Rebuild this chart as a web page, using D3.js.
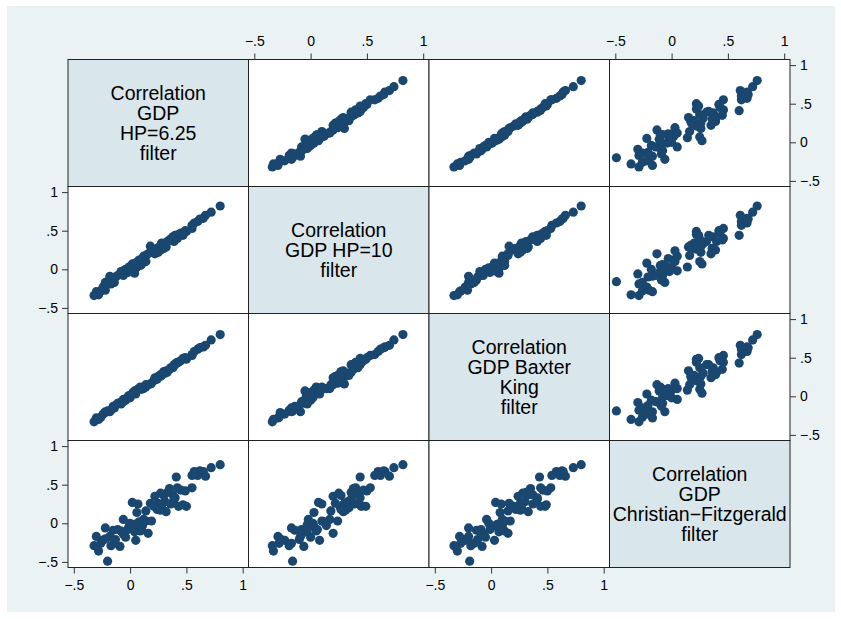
<!DOCTYPE html>
<html>
<head>
<meta charset="utf-8">
<script src="https://cdn.jsdelivr.net/npm/d3@7/dist/d3.min.js"></script>
<style>
  html, body { margin: 0; padding: 0; background: #ffffff; }
  svg { display: block; }
  text { font-family: "Liberation Sans", Arial, Helvetica, sans-serif; fill: #000; }
</style>
</head>
<body>
<svg id="chart" width="841" height="619"></svg>
<script>
// Diagonal labels, one entry per variable (each string is one line)
const varLabels = [
  ["Correlation", "GDP", "HP=6.25", "filter"],
  ["Correlation", "GDP HP=10", "filter"],
  ["Correlation", "GDP Baxter", "King", "filter"],
  ["Correlation", "GDP", "Christian\u2212Fitzgerald", "filter"]
];

// Axis ticks shared by all variables
const tickValues = [-0.5, 0, 0.5, 1];
const tickLabels = ["\u2212.5", "0", ".5", "1"];

// Cyclical GDP component, one value per observation, per filter
const hp625 = [0.80, 0.72, 0.65, 0.57, 0.55, 0.60, 0.67, 0.41, 0.55, 0.49,
  0.42, 0.35, 0.27, 0.22, 0.38, 0.39, 0.31, 0.36, 0.50, 0.43,
  0.02, 0.07, 0.18, 0.25, 0.27, 0.32, 0.14, 0.06, -0.06, 0.08,
  0.14, 0.19, 0.05, -0.01, 0.11, -0.11, -0.15, -0.22, -0.02, 0.16,
  0.04, -0.30, -0.18, -0.24, -0.13, -0.04, 0.05, -0.32, -0.26, -0.17,
  -0.09, -0.28, -0.20, -0.06, 0.21, 0.45, 0.10, 0.00, 0.03, 0.12,
  0.09, -0.08, 0.30, 0.33, 0.40, 0.28, -0.14, -0.22, 0.62, 0.47,
  0.24];

const hp10 = [0.82, 0.74, 0.66, 0.60, 0.57, 0.62, 0.70, 0.44, 0.53, 0.50,
  0.40, 0.38, 0.25, 0.20, 0.42, 0.36, 0.33, 0.39, 0.49, 0.45,
  0.07, 0.10, 0.30, 0.22, 0.31, 0.29, 0.18, 0.03, -0.02, 0.12,
  0.10, 0.24, 0.02, 0.03, 0.14, -0.08, -0.14, -0.17, -0.04, 0.20,
  -0.05, -0.29, -0.09, -0.23, -0.10, 0.00, 0.08, -0.34, -0.28, -0.19,
  -0.06, -0.33, -0.16, -0.08, 0.26, 0.47, 0.06, 0.02, -0.03, 0.17,
  0.05, -0.03, 0.27, 0.36, 0.44, 0.34, -0.17, -0.27, 0.65, 0.44,
  0.27];

const baxterKing = [0.80, 0.73, 0.64, 0.58, 0.54, 0.61, 0.66, 0.43, 0.53, 0.50,
  0.44, 0.35, 0.28, 0.24, 0.37, 0.41, 0.30, 0.37, 0.48, 0.44,
  0.04, 0.09, 0.16, 0.26, 0.26, 0.33, 0.15, 0.08, -0.04, 0.10,
  0.12, 0.17, 0.06, 0.01, 0.10, -0.09, -0.13, -0.20, -0.01, 0.15,
  0.07, -0.28, -0.20, -0.23, -0.12, -0.05, 0.03, -0.33, -0.27, -0.18,
  -0.08, -0.30, -0.19, -0.07, 0.20, 0.46, 0.09, -0.02, 0.05, 0.10,
  0.12, -0.10, 0.32, 0.31, 0.41, 0.27, -0.15, -0.21, 0.63, 0.49,
  0.22];

const christianFitzgerald = [0.76, 0.72, 0.67, 0.67, 0.62, 0.62, 0.61, 0.60, 0.46, 0.42,
  0.46, 0.45, 0.39, 0.35, 0.37, 0.31, 0.28, 0.25, 0.22, 0.22,
  0.27, 0.25, 0.26, 0.26, 0.17, 0.15, 0.16, 0.14, 0.05, 0.02,
  0.03, 0.03, -0.01, -0.04, -0.03, -0.08, -0.09, -0.06, -0.08, -0.13,
  -0.11, -0.17, -0.17, -0.22, -0.21, -0.18, -0.22, -0.29, -0.26, -0.29,
  -0.30, -0.36, -0.49, -0.14, 0.22, 0.43, -0.08, 0.00, -0.02, 0.05,
  -0.10, -0.10, 0.36, 0.40, 0.33, 0.20, -0.26, -0.20, 0.68, 0.24,
  0.18];

const series = [hp625, hp10, baxterKing, christianFitzgerald];
const nVars = series.length;

// Layout of the matrix
const gLeft = 68, gRight = 790, gTop = 59.5, gBottom = 567.5;
const cw = (gRight - gLeft) / nVars, ch = (gBottom - gTop) / nVars;
const padX = 5.8, padY = 5.6;

const svg = d3.select("#chart");

// Graph region background
svg.append("rect").attr("x", 7).attr("y", 6).attr("width", 828).attr("height", 606)
  .attr("fill", "#eaf2f3");

// One x scale per column and one y scale per row
const xScales = d3.range(nVars).map(j => d3.scaleLinear().domain([-0.5, 1])
  .range([gLeft + j * cw + padX, gLeft + (j + 1) * cw - padX]));
const yScales = d3.range(nVars).map(i => d3.scaleLinear().domain([-0.5, 1])
  .range([gTop + (i + 1) * ch - padY, gTop + i * ch + padY]));

const fmt = v => tickLabels[tickValues.indexOf(v)];
const markColor = "#1a476f";

for (let i = 0; i < nVars; i++) {
  for (let j = 0; j < nVars; j++) {
    const g = svg.append("g");
    const x0 = gLeft + j * cw, y0 = gTop + i * ch;
    if (i === j) {
      g.append("rect").attr("x", x0).attr("y", y0).attr("width", cw).attr("height", ch)
        .attr("fill", "#d9e6eb").attr("stroke", "#222").attr("stroke-width", 1);
      const lines = varLabels[i];
      const lh = 20;
      const cy = y0 + ch / 2 - (lines.length - 1) * lh / 2;
      g.selectAll("text").data(lines).join("text")
        .attr("x", x0 + cw / 2).attr("y", (d, k) => cy + k * lh)
        .attr("dy", "0.35em").attr("text-anchor", "middle")
        .attr("font-size", 19.5).text(d => d);
    } else {
      g.append("rect").attr("x", x0).attr("y", y0).attr("width", cw).attr("height", ch)
        .attr("fill", "#ffffff").attr("stroke", "#222").attr("stroke-width", 1);
      const xs = series[j], ys = series[i];
      g.selectAll("circle").data(d3.range(xs.length)).join("circle")
        .attr("cx", k => xScales[j](xs[k]))
        .attr("cy", k => yScales[i](ys[k]))
        .attr("r", 4.6).attr("fill", markColor);
    }
  }
}

// Axes: alternate sides as in a classic scatter-plot matrix
function styleAxis(sel) {
  sel.select(".domain").remove();
  sel.selectAll(".tick line").attr("stroke", "#333").attr("stroke-width", 1);
  sel.selectAll(".tick text").attr("font-size", 14)
    .attr("font-family", "'Liberation Sans', Arial, sans-serif").attr("fill", "#000");
}

for (let j = 0; j < nVars; j++) {
  if (j % 2 === 1) {
    svg.append("g").attr("transform", `translate(0,${gTop})`)
      .call(d3.axisTop(xScales[j]).tickValues(tickValues).tickFormat(fmt).tickSize(6).tickPadding(8))
      .call(styleAxis);
  } else {
    svg.append("g").attr("transform", `translate(0,${gBottom})`)
      .call(d3.axisBottom(xScales[j]).tickValues(tickValues).tickFormat(fmt).tickSize(6).tickPadding(7))
      .call(styleAxis);
  }
}
for (let i = 0; i < nVars; i++) {
  if (i % 2 === 1) {
    svg.append("g").attr("transform", `translate(${gLeft},0)`)
      .call(d3.axisLeft(yScales[i]).tickValues(tickValues).tickFormat(fmt).tickSize(6).tickPadding(4))
      .call(styleAxis);
  } else {
    svg.append("g").attr("transform", `translate(${gRight},0)`)
      .call(d3.axisRight(yScales[i]).tickValues(tickValues).tickFormat(fmt).tickSize(6).tickPadding(4))
      .call(styleAxis);
  }
}
</script>
</body>
</html>
